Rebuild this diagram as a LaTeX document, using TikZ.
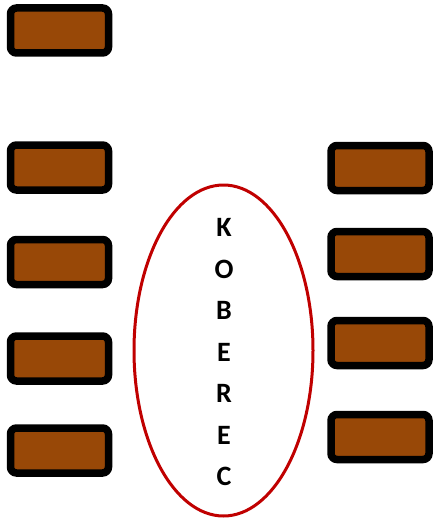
\documentclass[tikz,border=0pt]{standalone}
\usepackage{fontspec}
\setmainfont{Carlito}
\usetikzlibrary{shapes.geometric}
\definecolor{brick}{HTML}{984807}
\definecolor{rugred}{HTML}{C00000}
\tikzset{
  brickbox/.style={draw=black, line width=7.5pt, fill=brick, rounded corners=6pt,
    minimum width=98pt, minimum height=45pt, inner sep=0pt, outer sep=0pt},
  rug/.style={ellipse, draw=rugred, line width=3pt, minimum width=179pt, minimum height=331pt,
    inner sep=0pt},
  ruglabel/.style={align=center, inner sep=0pt, font=\fontsize{28}{41.5}\selectfont\bfseries}
}
\begin{document}
\begin{tikzpicture}[x=1pt,y=-1pt]
\useasboundingbox (0,0) rectangle (434,519);
\node[brickbox] (l1) at (59.5,30.5) {};
\node[brickbox] (l2) at (59.5,167.5) {};
\node[brickbox] (l3) at (59.5,262) {};
\node[brickbox] (l4) at (59.5,358.5) {};
\node[brickbox] (l5) at (59.5,450.5) {};
\node[brickbox] (r1) at (380,168) {};
\node[brickbox] (r2) at (380,254) {};
\node[brickbox] (r3) at (380,343) {};
\node[brickbox] (r4) at (380,437) {};
\node[rug] (koberec) at (223.5,350.5) {};
\node[ruglabel] (text) at (224,352.5) {K\\O\\B\\E\\R\\E\\C};
\end{tikzpicture}
\end{document}
